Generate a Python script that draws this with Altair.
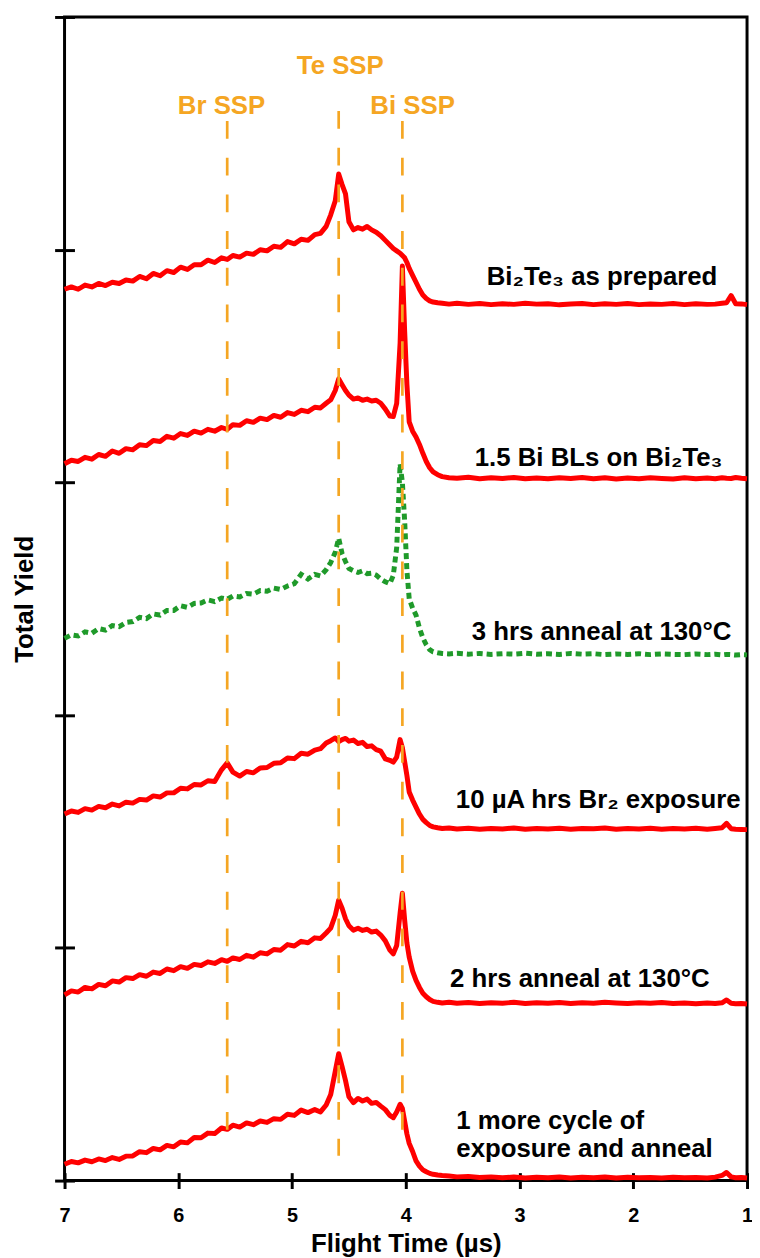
import altair as alt
import pandas as pd

FONT = "Liberation Sans"
RED = "#FF0000"
GREEN = "#1F9A2A"
ORANGE = "#F5A623"

# Flight time grid (µs)
flight_time = [
    7.00, 6.94, 6.88, 6.82, 6.76, 6.70, 6.64, 6.58, 6.52, 6.46,
    6.40, 6.34, 6.28, 6.22, 6.16, 6.10, 6.04, 5.98, 5.92, 5.86,
    5.80, 5.74, 5.68, 5.62, 5.57, 5.52, 5.46, 5.40, 5.34, 5.28,
    5.22, 5.16, 5.10, 5.04, 4.98, 4.92, 4.86, 4.80, 4.75, 4.70,
    4.66, 4.62, 4.59, 4.56, 4.53, 4.50, 4.46, 4.42, 4.38, 4.34,
    4.30, 4.26, 4.22, 4.18, 4.14, 4.11, 4.08, 4.05, 4.03, 4.01,
    3.99, 3.97, 3.94, 3.91, 3.88, 3.85, 3.82, 3.79, 3.76, 3.72,
    3.68, 3.62, 3.55, 3.45, 3.35, 3.25, 3.15, 3.05, 2.95, 2.85,
    2.75, 2.65, 2.55, 2.45, 2.35, 2.25, 2.15, 2.05, 1.95, 1.85,
    1.75, 1.65, 1.55, 1.45, 1.35, 1.28, 1.22, 1.18, 1.14, 1.10,
    1.05, 1.00,
]

# Total yield (arbitrary units, traces offset vertically)
as_prepared = [
    383, 384, 383, 384.8, 384, 385.5, 384.6, 386, 385.5, 387,
    386.5, 388.5, 387.5, 389.8, 388.8, 391, 390.2, 392.5, 391.5, 393.5,
    393.5, 395.5, 394.5, 396.5, 395.8, 397.5, 396.8, 398.5, 398, 400,
    399.5, 401.5, 401, 403.5, 402.5, 404.5, 404, 406.5, 407, 410,
    415, 421, 432.5, 428, 424, 412, 408.5, 409.5, 408.8, 410,
    408.5, 407.5, 406, 404, 402, 400.5, 399.5, 398.5, 397.5, 396.5,
    394.5, 392, 389, 386, 383, 380.5, 379, 378, 377.5, 377.2,
    377, 376.6, 377, 376.5, 376.9, 376.4, 376.8, 376.5, 377, 376.6,
    376.8, 376.3, 376.7, 376.9, 376.4, 376.8, 376.5, 376.9, 376.4, 376.7,
    376.5, 376.9, 376.4, 376.8, 376.5, 376.6, 377, 377.2, 380.3, 376.8,
    376.7, 376.4,
]

bi_bilayers = [
    308, 309.5, 309, 310.8, 310, 312, 311.2, 313.5, 312.5, 314.5,
    314, 316.2, 315.8, 318, 317.6, 319.8, 319, 321, 320.2, 322,
    321.2, 322.8, 322, 323.6, 322.8, 324.8, 324.5, 326.5, 325.8, 327.6,
    327, 328.8, 328, 330, 329.2, 331, 330.4, 332.3, 332, 334,
    335.5, 339.5, 344.5, 342, 339.5, 337.5, 335.8, 336.3, 335.3, 335.8,
    335, 335.3, 334, 331.5, 328.5, 328.3, 334, 360, 393, 365,
    342, 326, 322, 319.5, 316.3, 312.5, 309, 306.3, 304.5, 303.3,
    302.5, 302, 301.8, 302.2, 301.6, 302, 301.7, 302.1, 301.6, 301.9,
    301.6, 302, 301.7, 302.1, 301.6, 302, 301.5, 301.9, 301.6, 302,
    301.7, 301.5, 302, 301.6, 301.9, 301.6, 302, 301.8, 301.7, 302.1,
    301.8, 301.6,
]

anneal_3h = [
    233, 234.5, 234, 235.8, 235.2, 237.2, 236.5, 238.5, 238, 239.8,
    240.2, 242, 241.5, 243.5, 243, 245, 245, 247, 246.3, 248,
    248.2, 249.5, 248.8, 250.3, 249.8, 251.2, 250.8, 252.3, 252, 253.5,
    253.2, 254.6, 254, 255.5, 256.5, 260.5, 258.5, 260.5, 259.8, 262.5,
    265.6, 270, 276, 269.4, 266, 263, 262, 261.3, 262, 260.8,
    261, 260.2, 258.5, 257.3, 256.5, 260, 272, 308, 300, 283.5,
    262, 250, 246, 243, 237.4, 233.2, 230.2, 228.1, 227.2, 226.8,
    226.5, 226.3, 226.6, 226.2, 226.5, 226.1, 226.4, 226.2, 226.6, 226.2,
    226.4, 226.1, 226.5, 226.2, 226.4, 226, 226.3, 226.1, 226.4, 226,
    226.3, 226.1, 226, 226.3, 226, 226.2, 225.9, 226.1, 226, 225.8,
    226, 225.9,
]

br2_exposure = [
    157.5, 158.8, 158.2, 159.8, 159.2, 160.8, 160.2, 161.8, 161, 162.6,
    162.2, 163.8, 163.5, 165.3, 164.8, 166.6, 166.6, 168.6, 168.3, 170.2,
    170, 171.8, 171.5, 176.5, 179.5, 175.5, 173.8, 175.8, 175.2, 177.3,
    177.5, 179.3, 179.5, 181.6, 181.3, 183.6, 183.2, 185, 185.6, 188,
    189, 190.2, 188.6, 189.5, 190, 188.8, 189.3, 187.8, 188.3, 186.5,
    186.8, 185.2, 184.5, 181.2, 180.6, 179.8, 182, 189.5, 186, 180,
    174, 167, 163.5, 160.5, 157.5, 155.2, 153.8, 152.6, 152, 151.6,
    151.3, 151.5, 151.1, 151.4, 151, 151.3, 151.1, 151.5, 151, 151.3,
    151.1, 151.4, 151, 151.3, 151.2, 151.5, 151, 151.3, 151.1, 151.4,
    151, 151.3, 151.1, 151.4, 151, 151.3, 151.6, 153.5, 151.2, 151,
    150.9, 150.8,
]

anneal_2h = [
    79.8, 81.5, 81, 83, 82.4, 84.3, 83.7, 85.8, 85.3, 87.2,
    86.8, 88.5, 87.8, 89.6, 89, 90.9, 90.2, 91.9, 91.2, 92.9,
    92.4, 94, 93.3, 94.9, 94.2, 95.7, 95, 96.8, 96, 97.9,
    97.4, 99.3, 99, 101.4, 100.8, 102.8, 102.2, 104.3, 104, 106.4,
    108.5, 114, 120.5, 117, 112.5, 109.5, 107.6, 108.4, 107.5, 108,
    106.8, 107.2, 105.5, 103, 99, 97.4, 101, 115, 123.5, 112,
    102, 96, 90, 86, 83, 80.5, 79, 77.8, 77, 76.6,
    76.3, 76.6, 76.2, 76.5, 76.1, 76.4, 76.2, 76.6, 76.1, 76.4,
    76.2, 76.5, 76.1, 76.4, 76.2, 76.6, 76.3, 76.1, 76.4, 76.2,
    76.5, 76.1, 76.3, 76, 76.3, 76.1, 76.4, 77.6, 76.2, 76,
    76.1, 75.9,
]

one_more_cycle = [
    7, 8.2, 7.6, 8.8, 8.1, 9.3, 8.6, 9.9, 9.1, 10.5,
    10.6, 12.4, 12, 13.8, 13.2, 15.1, 14.5, 16.6, 16.2, 18.5,
    18.4, 20.4, 20.2, 22.6, 22, 23.8, 23, 24.8, 24, 25.6,
    25, 26.6, 26.3, 28.5, 28, 30.3, 29.2, 30.5, 29.5, 32.5,
    37, 47, 54.5, 49, 43, 36, 33.5, 35.3, 34.2, 35,
    33.2, 33.6, 32, 30.5, 28, 27, 29.5, 32.8, 31, 25.5,
    20, 16, 12.5, 8.5, 6.2, 4.6, 3.8, 3.1, 2.7, 2.4,
    2.2, 2, 1.6, 1.8, 1.3, 1.6, 1.2, 1.5, 1.1, 1.4,
    1.2, 1.5, 1.1, 1.4, 1.2, 1.5, 1.1, 1.4, 1.2, 1.3,
    1.1, 1.4, 1.2, 1.3, 1.1, 1.5, 2.2, 3.5, 1.6, 1.2,
    1.3, 1.1,
]

series_names = ["as_prepared", "bi_bilayers", "anneal_3h",
                "br2_exposure", "anneal_2h", "one_more_cycle"]
series_values = [as_prepared, bi_bilayers, anneal_3h,
                 br2_exposure, anneal_2h, one_more_cycle]
series_styles = ["solid", "solid", "dotted", "solid", "solid", "solid"]

# Surface scattering peak markers
ssp_names = ["Br SSP", "Te SSP", "Bi SSP"]
ssp_time = [5.57, 4.59, 4.03]
ssp_top = [455.3, 459.6, 455.3]
ssp_bottom = [17.1, 10.7, 17.1]
ssp_label_time = [5.62, 4.576, 3.94]
ssp_label_y = [458.3, 475.5, 458.3]

# Trace labels
label_text = ["Bi\u2082Te\u2083 as prepared", "1.5 Bi BLs on Bi\u2082Te\u2083",
              "3 hrs anneal at 130°C", "10 µA hrs Br\u2082 exposure",
              "2 hrs anneal at 130°C"]
label_time = [2.275, 2.305, 2.279, 2.309, 2.47]
label_y = [384.9, 306.9, 232.3, 160.3, 83.1]

left_label_text = ["1 more cycle of", "exposure and anneal"]
left_label_time = [3.556, 3.556]
left_label_y = [22.2, 10.2]

rows = []
for name, vals, style in zip(series_names, series_values, series_styles):
    for t, v in zip(flight_time, vals):
        rows.append({"series": name, "style": style, "t": t, "y": v})
traces = pd.DataFrame(rows)

ssp_df = pd.DataFrame({"name": ssp_names, "t": ssp_time, "y": ssp_top, "y2": ssp_bottom})
ssp_lbl = pd.DataFrame({"name": ssp_names, "t": ssp_label_time, "y": ssp_label_y})
lbl_df = pd.DataFrame({"text": label_text, "t": label_time, "y": label_y})
lbl_left = pd.DataFrame({"text": left_label_text, "t": left_label_time, "y": left_label_y})

x_axis = alt.Axis(
    values=[1, 2, 3, 4, 5, 6, 7], format="d", title="Flight Time (µs)",
    domain=False, grid=False, offset=-8, tickSize=16, tickWidth=3,
    tickColor="black", labelFont=FONT, labelFontSize=20, labelFontWeight="bold",
    labelColor="black", labelPadding=17, labelFlush=False, labelOverlap=False,
    titleFont=FONT, titleFontSize=26, titleFontWeight="bold", titleColor="black",
    titlePadding=5,
)
y_axis = alt.Axis(
    values=[0, 100, 200, 300, 400, 500], labels=False, title="Total Yield",
    domain=False, grid=False, offset=-10, tickSize=20, tickWidth=3,
    tickColor="black", titleFont=FONT, titleFontSize=26, titleFontWeight="bold",
    titleColor="black", titlePadding=16,
)

X = alt.X("t:Q", scale=alt.Scale(domain=[1, 7], reverse=True, nice=False, zero=False), axis=x_axis)
Y = alt.Y("y:Q", scale=alt.Scale(domain=[0, 500], nice=False, zero=False), axis=y_axis)

red_lines = alt.Chart(traces).transform_filter(alt.datum.style == "solid").mark_line(
    color=RED, strokeWidth=5, strokeJoin="round"
).encode(x=X, y=Y, detail="series:N")

green_line = alt.Chart(traces).transform_filter(alt.datum.style == "dotted").mark_line(
    color=GREEN, strokeWidth=5, strokeDash=[6, 4]
).encode(x=X, y=Y, detail="series:N")

rules = alt.Chart(ssp_df).mark_rule(
    color=ORANGE, strokeWidth=2.7, strokeDash=[18, 19]
).encode(x=X, y=Y, y2="y2:Q")

ssp_text = alt.Chart(ssp_lbl).mark_text(
    font=FONT, fontSize=26, fontWeight="bold", color=ORANGE,
    align="center", baseline="alphabetic"
).encode(x=X, y=Y, text="name:N")

labels = alt.Chart(lbl_df).mark_text(
    font=FONT, fontSize=26, fontWeight="bold", color="black",
    align="center", baseline="alphabetic"
).encode(x=X, y=Y, text="text:N")

labels_left = alt.Chart(lbl_left).mark_text(
    font=FONT, fontSize=26, fontWeight="bold", color="black",
    align="left", baseline="alphabetic"
).encode(x=X, y=Y, text="text:N")

chart = alt.layer(
    red_lines, green_line, rules, ssp_text, labels, labels_left
).properties(
    width=688, height=1173,
    autosize=alt.AutoSizeParams(type="none"),
    padding={"left": 57, "top": 4, "right": 5, "bottom": 72},
    background="white",
).configure_view(stroke="black", strokeWidth=3)

chart.save("out.html", embed_options={"renderer": "svg", "actions": False})
